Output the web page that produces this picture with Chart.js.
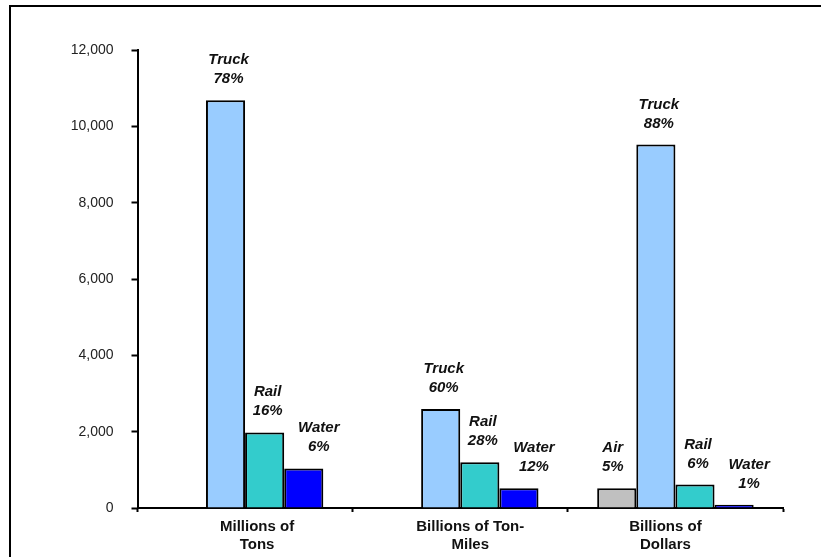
<!DOCTYPE html>
<html>
<head>
<meta charset="utf-8">
<script src="https://cdn.jsdelivr.net/npm/chart.js@4"></script>
<style>
  html, body { margin: 0; padding: 0; background: #fff; }
  #wrap { position: relative; width: 821px; height: 557px; }
</style>
</head>
<body>
<div id="wrap"><canvas id="c" width="821" height="557"></canvas></div>
<script>
// ---- data ----
const categories = [["Millions of", "Tons"], ["Billions of Ton-", "Miles"], ["Billions of", "Dollars"]];
const seriesNames = ["Air", "Truck", "Rail", "Water"];
const airValues   = [null, null, 517];
const truckValues = [10684, 2596, 9523];
const railValues  = [1980, 1198, 613];
const waterValues = [1036, 517, 84];
const airPct   = [null, null, 5];
const truckPct = [78, 60, 88];
const railPct  = [16, 28, 6];
const waterPct = [6, 12, 1];
const yTicks = [0, 2000, 4000, 6000, 8000, 10000, 12000];

// ---- styles ----
const colors = ["#C0C0C0", "#99CCFF", "#33CCCC", "#0000FF"];
const labelDx = [-4, 3, 3, 15];
const catLabelDx = [12, 10, -10];
const FONT = "'Liberation Sans', Arial, sans-serif";

const valueSets = [airValues, truckValues, railValues, waterValues];
const pctSets = [airPct, truckPct, railPct, waterPct];

const frame = {
  id: 'frame',
  beforeDraw(chart) {
    const ctx = chart.ctx;
    ctx.save();
    ctx.fillStyle = '#fff';
    ctx.fillRect(0, 0, chart.width, chart.height);
    ctx.strokeStyle = '#000';
    ctx.lineWidth = 2;
    ctx.strokeRect(10, 6, 830, 700);
    ctx.restore();
  }
};

const dataLabels = {
  id: 'dataLabels',
  afterDatasetsDraw(chart) {
    const ctx = chart.ctx;
    ctx.save();
    ctx.font = "italic bold 15px " + FONT;
    ctx.fillStyle = '#111';
    ctx.textAlign = 'center';
    ctx.textBaseline = 'alphabetic';
    chart.data.datasets.forEach((ds, i) => {
      const meta = chart.getDatasetMeta(i);
      meta.data.forEach((bar, j) => {
        const p = pctSets[i][j];
        if (p == null || ds.data[j] == null) return;
        const x = bar.x + labelDx[i];
        const capTop = bar.y - 47;
        ctx.fillText(seriesNames[i], x, capTop + 11);
        ctx.fillText(p + '%', x, capTop + 30);
      });
    });
    // category labels
    const xs = chart.scales.x;
    ctx.font = "bold 15px " + FONT;
    ctx.fillStyle = '#111';
    categories.forEach((lines, i) => {
      const cx = xs.getPixelForTick(i) + catLabelDx[i];
      lines.forEach((t, k) => ctx.fillText(t, cx, xs.top + 23 + k * 18));
    });
    ctx.restore();
  }
};

new Chart(document.getElementById('c'), {
  type: 'bar',
  data: {
    labels: categories,
    datasets: seriesNames.map((n, i) => ({
      label: n,
      data: valueSets[i],
      backgroundColor: colors[i],
      borderColor: '#000',
      borderWidth: 2,
      borderSkipped: 'bottom',
      categoryPercentage: 4 / 5.5,
      barPercentage: 1.0
    }))
  },
  options: {
    responsive: false,
    animation: false,
    events: [],
    layout: { padding: { left: 0, right: 38, top: 50, bottom: 0 } },
    plugins: { legend: { display: false }, tooltip: { enabled: false } },
    scales: {
      x: {
        offset: true,
        grid: { offset: true, drawOnChartArea: false, drawTicks: true, tickLength: 4, tickWidth: 2, tickColor: '#000' },
        border: { display: true, color: '#000', width: 2 },
        ticks: { display: false },
        afterFit(s) { s.height = 49; }
      },
      y: {
        min: 0, max: 12000,
        afterBuildTicks(s) { s.ticks = yTicks.map(v => ({ value: v })); },
        grid: { drawOnChartArea: false, drawTicks: true, tickLength: 6, tickWidth: 2, tickColor: '#000' },
        border: { display: true, color: '#000', width: 2 },
        ticks: { color: '#222', font: { family: FONT, size: 14 }, padding: 18,
                 callback: v => v.toLocaleString('en-US') },
        afterFit(s) { s.width = 137.5; }
      }
    }
  },
  plugins: [frame, dataLabels]
});
</script>
</body>
</html>
